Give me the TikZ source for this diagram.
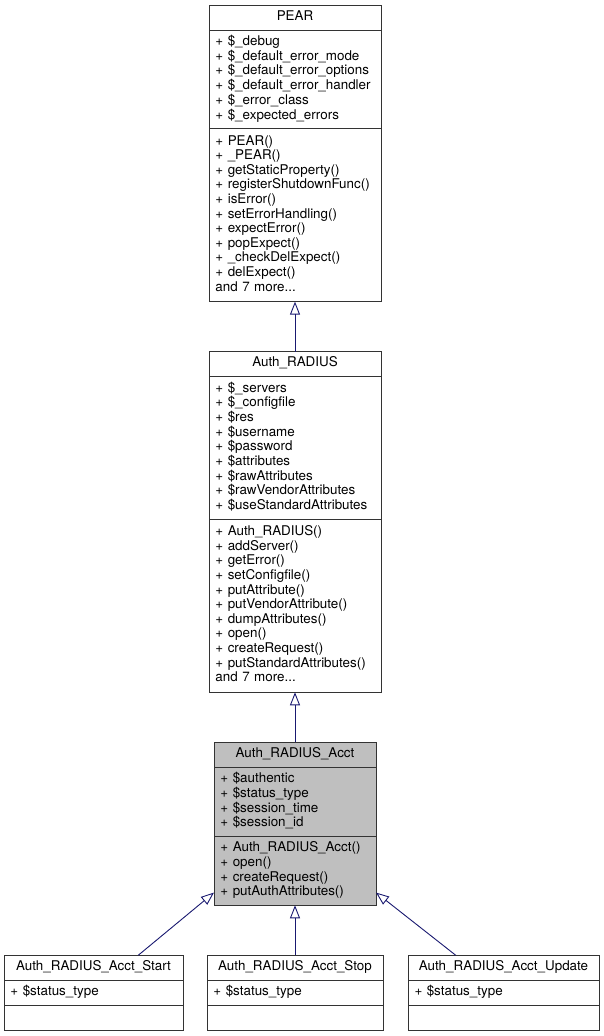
\documentclass[tikz,border=0pt]{standalone}
\usepackage{fontspec}
\setmainfont{TeX Gyre Heros}
\usepackage{tikz}
\usetikzlibrary{arrows.meta,positioning,calc}
\definecolor{edgeblue}{RGB}{25,25,112}
\definecolor{focusgray}{RGB}{191,191,191}

\begin{document}
\begin{tikzpicture}[node distance=50pt,
  every node/.style={font=\fontsize{13.4pt}{14.6pt}\selectfont},
  classname/.style={draw=black!80, line width=0.9pt, fill=white, inner sep=0pt, outer sep=0pt, minimum height=25pt, text height=10.2pt, text depth=4.4pt},
  members/.style={draw=black!80, line width=0.9pt, fill=white, inner xsep=6.5pt, inner ysep=5.2pt, outer sep=0pt},
  inherit/.style={draw=edgeblue, line width=0.9pt, -{Triangle[open, length=13pt, width=10pt]}}]

% margins of the whole graph
\useasboundingbox (-295pt,5pt) rectangle (309pt,-1031pt);

% PEAR
\node[classname, minimum width=172pt, anchor=north] (pear) at (0,0) {PEAR};
\node[members, text width=159pt, below=0pt of pear] (pear-a) {\begin{tabular}{@{}l@{}}
+ \$\_debug\\
+ \$\_default\_error\_mode\\
+ \$\_default\_error\_options\\
+ \$\_default\_error\_handler\\
+ \$\_error\_class\\
+ \$\_expected\_errors
\end{tabular}};
\node[members, text width=159pt, minimum height=173pt, below=0pt of pear-a] (pear-m) {\begin{tabular}{@{}l@{}}
+ PEAR()\\
+ \_PEAR()\\
+ getStaticProperty()\\
+ registerShutdownFunc()\\
+ isError()\\
+ setErrorHandling()\\
+ expectError()\\
+ popExpect()\\
+ \_checkDelExpect()\\
+ delExpect()\\
and 7 more...
\end{tabular}};

% Auth_RADIUS
\node[classname, minimum width=172pt, below=of pear-m] (radius) {Auth\_RADIUS};
\node[members, text width=159pt, below=0pt of radius] (radius-a) {\begin{tabular}{@{}l@{}}
+ \$\_servers\\
+ \$\_configfile\\
+ \$res\\
+ \$username\\
+ \$password\\
+ \$attributes\\
+ \$rawAttributes\\
+ \$rawVendorAttributes\\
+ \$useStandardAttributes
\end{tabular}};
\node[members, text width=159pt, minimum height=173pt, below=0pt of radius-a] (radius-m) {\begin{tabular}{@{}l@{}}
+ Auth\_RADIUS()\\
+ addServer()\\
+ getError()\\
+ setConfigfile()\\
+ putAttribute()\\
+ putVendorAttribute()\\
+ dumpAttributes()\\
+ open()\\
+ createRequest()\\
+ putStandardAttributes()\\
and 7 more...
\end{tabular}};

% Auth_RADIUS_Acct
\node[classname, fill=focusgray, minimum width=162pt, below=of radius-m] (acct) {Auth\_RADIUS\_Acct};
\node[members, fill=focusgray, text width=149pt, below=0pt of acct] (acct-a) {\begin{tabular}{@{}l@{}}
+ \$authentic\\
+ \$status\_type\\
+ \$session\_time\\
+ \$session\_id
\end{tabular}};
\node[members, fill=focusgray, text width=149pt, below=0pt of acct-a] (acct-m) {\begin{tabular}{@{}l@{}}
+ Auth\_RADIUS\_Acct()\\
+ open()\\
+ createRequest()\\
+ putAuthAttributes()
\end{tabular}};

% subclasses
\node[classname, minimum width=176pt, below=of acct-m] (stop) {Auth\_RADIUS\_Acct\_Stop};
\node[members, text width=163pt, below=0pt of stop] (stop-a) {\begin{tabular}{@{}l@{}}+ \$status\_type\end{tabular}};
\node[members, text width=163pt, below=0pt of stop-a] (stop-m) {\strut};

\node[classname, minimum width=179pt, left=24pt of stop] (start) {Auth\_RADIUS\_Acct\_Start};
\node[members, text width=166pt, below=0pt of start] (start-a) {\begin{tabular}{@{}l@{}}+ \$status\_type\end{tabular}};
\node[members, text width=166pt, below=0pt of start-a] (start-m) {\strut};

\node[classname, minimum width=191pt, right=25pt of stop] (update) {Auth\_RADIUS\_Acct\_Update};
\node[members, text width=178pt, below=0pt of update] (update-a) {\begin{tabular}{@{}l@{}}+ \$status\_type\end{tabular}};
\node[members, text width=178pt, below=0pt of update-a] (update-m) {\strut};

% inheritance
\draw[inherit] (radius) -- (pear-m);
\draw[inherit] (acct) -- (radius-m);
\draw[inherit] (stop) -- (acct-m);
\draw[inherit] ($(start.north)!0.5!(start.north east)$) -- (acct-m.195);
\draw[inherit] ($(update.north)!0.5!(update.north west)$) -- (acct-m.345);
\end{tikzpicture}
\end{document}
